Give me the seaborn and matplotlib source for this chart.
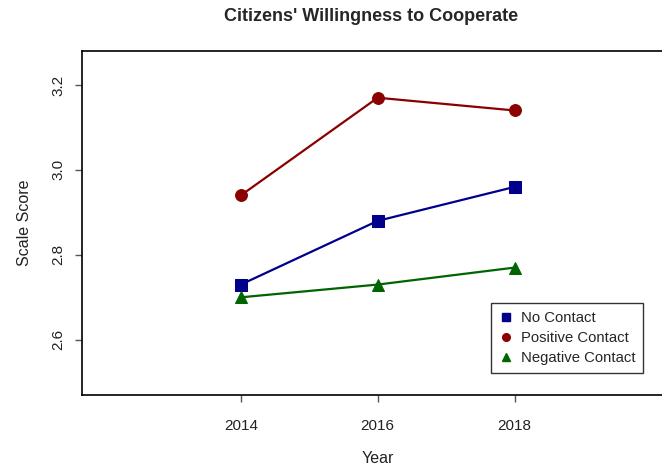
import numpy as np
import pandas as pd
import seaborn as sns
import matplotlib
matplotlib.use("Agg")
import matplotlib.pyplot as plt
import matplotlib.lines as mline

years = [2014, 2016, 2018]
no_contact = [2.73, 2.88, 2.96]
positive_contact = [2.94, 3.17, 3.14]
negative_contact = [2.70, 2.73, 2.77]
groups = ["No Contact", "Positive Contact", "Negative Contact"]

df = pd.DataFrame({
    "Year": years * 3,
    "Score": no_contact + positive_contact + negative_contact,
    "Group": [g for g in groups for _ in years],
})

colors = {"No Contact": "#00008B", "Positive Contact": "#8B0000", "Negative Contact": "#006400"}
marks = {"No Contact": "s", "Positive Contact": "o", "Negative Contact": "^"}

sns.set_style("white")
plt.rcParams["font.family"] = ["Liberation Sans", "DejaVu Sans"]

fig = plt.figure(figsize=(6.62, 4.68), dpi=100)
ax = fig.add_axes([0.124, 0.156, 0.893, 0.735])

for g in groups:
    sub = df[df["Group"] == g]
    sns.lineplot(data=sub, x="Year", y="Score", ax=ax, color=colors[g],
                 marker=marks[g], markersize=8.5 if g != "Negative Contact" else 9,
                 markeredgecolor=colors[g], linewidth=1.6, legend=False)

ax.set_xlim(2011.68, 2020.32)
ax.set_ylim(2.47, 3.28)
ax.set_xticks(years)
ax.set_yticks([2.6, 2.8, 3.0, 3.2])
ax.set_yticklabels(["2.6", "2.8", "3.0", "3.2"], rotation=90, va="center")
ax.tick_params(axis="both", length=5, width=1, color="#555555", labelsize=11,
               labelcolor="#222222", left=True, bottom=True)
ax.tick_params(axis="x", pad=12)
ax.tick_params(axis="y", pad=7)
for sp in ax.spines.values():
    sp.set_color("black")
    sp.set_linewidth(1.2)

ax.set_xlabel("Year", fontsize=11.5, color="#222222", labelpad=13)
ax.set_ylabel("Scale Score", fontsize=11.5, color="#222222", labelpad=14)
fig.suptitle("Citizens' Willingness to Cooperate", x=0.56, y=0.982,
             fontsize=13, fontweight="bold")

handles = [mline.Line2D([], [], linestyle="none", marker=marks[g], color=colors[g],
                        markersize=5.5) for g in groups]
leg = ax.legend(handles, groups, loc="lower right", bbox_to_anchor=(0.962, 0.043),
                frameon=True, fancybox=False, fontsize=10.75, handletextpad=0.55,
                handlelength=1.0, borderpad=0.5, labelspacing=0.42)
leg.get_frame().set_edgecolor("black")
leg.get_frame().set_linewidth(1)

fig.savefig("out.png", dpi=100)
